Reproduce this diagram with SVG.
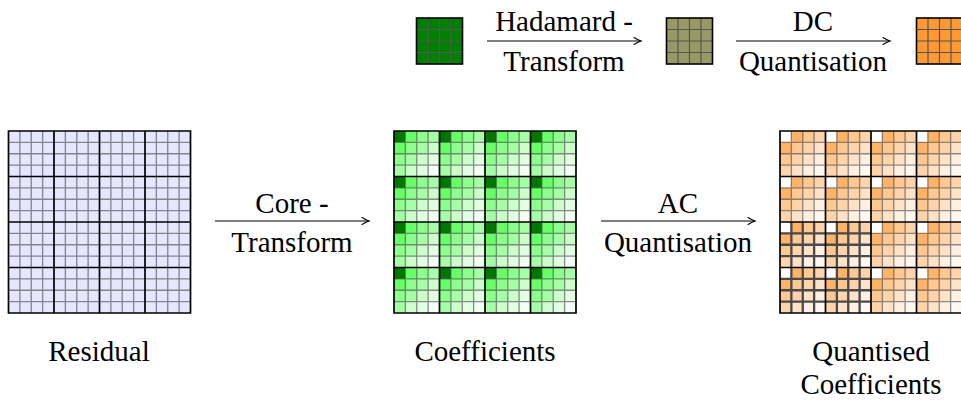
<svg xmlns="http://www.w3.org/2000/svg" xmlns:xlink="http://www.w3.org/1999/xlink" width="961" height="406" viewBox="0 0 961 406">
<style>
.t{font-family:'Times New Roman',Times,'Liberation Serif','DejaVu Serif','Noto Serif',serif;font-size:29px;fill:#000;text-anchor:middle}
.thin{fill:none;stroke:#333;stroke-opacity:.55;stroke-width:1.3}
.heavy{fill:none;stroke:#4a4a4a;stroke-width:2.3}
.thick{fill:none;stroke:#000;stroke-width:1.7}
.sthin{fill:none;stroke:#555;stroke-width:1.2}
.sbox{fill:none;stroke:#000;stroke-width:1.6}
.arr{fill:none;stroke:#000;stroke-width:1.1;marker-end:url(#ah)}
</style>
<defs>
<marker id="ah" markerUnits="userSpaceOnUse" markerWidth="12" markerHeight="10" refX="10" refY="5" orient="auto" viewBox="0 0 12 10">
<path d="M3,1.5 Q7.5,4.3 10,5 Q7.5,5.7 3,8.5" fill="none" stroke="#000" stroke-width="1.1" stroke-linecap="round"/>
</marker>
<path id="lines" d="M11.375 0V45.5M22.75 0V45.5M34.125 0V45.5M0 11.375H45.5M0 22.75H45.5M0 34.125H45.5"/>
<path id="grid" d="M45.5 0V182M91 0V182M136.5 0V182M0 45.5H182M0 91H182M0 136.5H182M0 0H182V182H0Z"/>
<g id="rblk">
<rect width="45.5" height="45.5" fill="#e6e6ff"/>
<use xlink:href="#lines" class="thin"/>
</g>
<g id="gcells">
<rect x="0" y="0" width="11.375" height="11.375" fill="#007700"/>
<rect x="11.375" y="0" width="11.375" height="11.375" fill="#66ff66"/>
<rect x="22.75" y="0" width="11.375" height="11.375" fill="#8cff8c"/>
<rect x="34.125" y="0" width="11.375" height="11.375" fill="#a6ffa6"/>
<rect x="0" y="11.375" width="11.375" height="11.375" fill="#66ff66"/>
<rect x="11.375" y="11.375" width="11.375" height="11.375" fill="#8cff8c"/>
<rect x="22.75" y="11.375" width="11.375" height="11.375" fill="#a6ffa6"/>
<rect x="34.125" y="11.375" width="11.375" height="11.375" fill="#ccffcc"/>
<rect x="0" y="22.75" width="11.375" height="11.375" fill="#8cff8c"/>
<rect x="11.375" y="22.75" width="11.375" height="11.375" fill="#a6ffa6"/>
<rect x="22.75" y="22.75" width="11.375" height="11.375" fill="#ccffcc"/>
<rect x="34.125" y="22.75" width="11.375" height="11.375" fill="#e3ffe3"/>
<rect x="0" y="34.125" width="11.375" height="11.375" fill="#a6ffa6"/>
<rect x="11.375" y="34.125" width="11.375" height="11.375" fill="#ccffcc"/>
<rect x="22.75" y="34.125" width="11.375" height="11.375" fill="#e3ffe3"/>
<rect x="34.125" y="34.125" width="11.375" height="11.375" fill="#f2fff2"/>
</g>
<g id="ocells">
<rect x="0" y="0" width="11.375" height="11.375" fill="#ffffff"/>
<rect x="11.375" y="0" width="11.375" height="11.375" fill="#ffb366"/>
<rect x="22.75" y="0" width="11.375" height="11.375" fill="#ffc891"/>
<rect x="34.125" y="0" width="11.375" height="11.375" fill="#ffd4aa"/>
<rect x="0" y="11.375" width="11.375" height="11.375" fill="#ffb366"/>
<rect x="11.375" y="11.375" width="11.375" height="11.375" fill="#ffc891"/>
<rect x="22.75" y="11.375" width="11.375" height="11.375" fill="#ffd4aa"/>
<rect x="34.125" y="11.375" width="11.375" height="11.375" fill="#ffe3c8"/>
<rect x="0" y="22.75" width="11.375" height="11.375" fill="#ffc891"/>
<rect x="11.375" y="22.75" width="11.375" height="11.375" fill="#ffd4aa"/>
<rect x="22.75" y="22.75" width="11.375" height="11.375" fill="#ffe3c8"/>
<rect x="34.125" y="22.75" width="11.375" height="11.375" fill="#fff0e2"/>
<rect x="0" y="34.125" width="11.375" height="11.375" fill="#ffd4aa"/>
<rect x="11.375" y="34.125" width="11.375" height="11.375" fill="#ffe3c8"/>
<rect x="22.75" y="34.125" width="11.375" height="11.375" fill="#fff0e2"/>
<rect x="34.125" y="34.125" width="11.375" height="11.375" fill="#fff8f1"/>
</g>
<g id="gblk"><use xlink:href="#gcells"/><use xlink:href="#lines" class="thin"/></g>
<g id="oblk"><use xlink:href="#ocells"/><use xlink:href="#lines" class="thin"/></g>
<g id="oblkh"><use xlink:href="#ocells"/><use xlink:href="#lines" class="heavy"/></g>
<path id="small" d="M11.5 0V46M23 0V46M34.5 0V46M0 11.5H46M0 23H46M0 34.5H46"/>
</defs>

<g id="residual" transform="translate(8.5,131)">
<use xlink:href="#rblk" x="0" y="0"/><use xlink:href="#rblk" x="45.5" y="0"/><use xlink:href="#rblk" x="91" y="0"/><use xlink:href="#rblk" x="136.5" y="0"/>
<use xlink:href="#rblk" x="0" y="45.5"/><use xlink:href="#rblk" x="45.5" y="45.5"/><use xlink:href="#rblk" x="91" y="45.5"/><use xlink:href="#rblk" x="136.5" y="45.5"/>
<use xlink:href="#rblk" x="0" y="91"/><use xlink:href="#rblk" x="45.5" y="91"/><use xlink:href="#rblk" x="91" y="91"/><use xlink:href="#rblk" x="136.5" y="91"/>
<use xlink:href="#rblk" x="0" y="136.5"/><use xlink:href="#rblk" x="45.5" y="136.5"/><use xlink:href="#rblk" x="91" y="136.5"/><use xlink:href="#rblk" x="136.5" y="136.5"/>
<use xlink:href="#grid" class="thick"/>
</g>
<g id="residual-label"><text class="t" x="99" y="361">Residual</text></g>

<g id="coefficients" transform="translate(394,131)">
<use xlink:href="#gblk" x="0" y="0"/><use xlink:href="#gblk" x="45.5" y="0"/><use xlink:href="#gblk" x="91" y="0"/><use xlink:href="#gblk" x="136.5" y="0"/>
<use xlink:href="#gblk" x="0" y="45.5"/><use xlink:href="#gblk" x="45.5" y="45.5"/><use xlink:href="#gblk" x="91" y="45.5"/><use xlink:href="#gblk" x="136.5" y="45.5"/>
<use xlink:href="#gblk" x="0" y="91"/><use xlink:href="#gblk" x="45.5" y="91"/><use xlink:href="#gblk" x="91" y="91"/><use xlink:href="#gblk" x="136.5" y="91"/>
<use xlink:href="#gblk" x="0" y="136.5"/><use xlink:href="#gblk" x="45.5" y="136.5"/><use xlink:href="#gblk" x="91" y="136.5"/><use xlink:href="#gblk" x="136.5" y="136.5"/>
<use xlink:href="#grid" class="thick"/>
</g>
<g id="coefficients-label"><text class="t" x="485" y="361">Coefficients</text></g>

<g id="quantised" transform="translate(780,131)">
<use xlink:href="#oblk" x="0" y="0"/><use xlink:href="#oblk" x="45.5" y="0"/><use xlink:href="#oblk" x="91" y="0"/><use xlink:href="#oblk" x="136.5" y="0"/>
<use xlink:href="#oblk" x="0" y="45.5"/><use xlink:href="#oblk" x="45.5" y="45.5"/><use xlink:href="#oblk" x="91" y="45.5"/><use xlink:href="#oblk" x="136.5" y="45.5"/>
<use xlink:href="#oblkh" x="0" y="91"/><use xlink:href="#oblkh" x="45.5" y="91"/><use xlink:href="#oblk" x="91" y="91"/><use xlink:href="#oblk" x="136.5" y="91"/>
<use xlink:href="#oblkh" x="0" y="136.5"/><use xlink:href="#oblkh" x="45.5" y="136.5"/><use xlink:href="#oblk" x="91" y="136.5"/><use xlink:href="#oblk" x="136.5" y="136.5"/>
<use xlink:href="#grid" class="thick"/>
</g>
<g id="quantised-label"><text class="t" x="871" y="361">Quantised</text><text class="t" x="871" y="394">Coefficients</text></g>

<g id="legend-green" transform="translate(416.5,18)">
<rect width="46" height="46" fill="#008000"/><use xlink:href="#small" class="sthin"/><rect width="46" height="46" class="sbox"/>
</g>
<g id="legend-olive" transform="translate(666.5,18)">
<rect width="46" height="46" fill="#999966"/><use xlink:href="#small" class="sthin"/><rect width="46" height="46" class="sbox"/>
</g>
<g id="legend-orange" transform="translate(916.5,18)">
<rect width="46" height="46" fill="#ff9933"/><use xlink:href="#small" class="sthin"/><rect width="46" height="46" class="sbox"/>
</g>

<g id="connectors">
<path class="arr" d="M487 41H641"/>
<path class="arr" d="M736 41H890"/>
<path class="arr" d="M215 221H369"/>
<path class="arr" d="M601 221H755"/>
<text class="t" x="564" y="31">Hadamard -</text>
<text class="t" x="564" y="71">Transform</text>
<text class="t" x="813" y="31">DC</text>
<text class="t" x="813" y="71">Quantisation</text>
<text class="t" x="292" y="213">Core -</text>
<text class="t" x="292" y="252">Transform</text>
<text class="t" x="678" y="213">AC</text>
<text class="t" x="678" y="252">Quantisation</text>
</g>
</svg>
